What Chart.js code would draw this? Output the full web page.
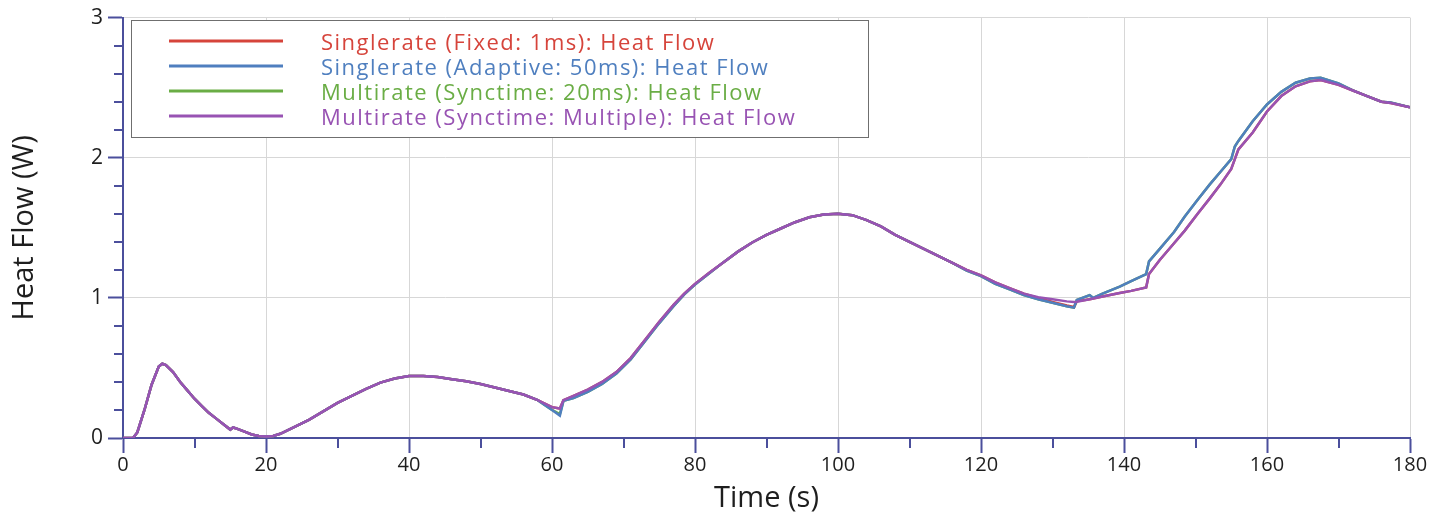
<!DOCTYPE html>
<html>
<head>
<meta charset="utf-8">
<script src="https://cdn.jsdelivr.net/npm/chart.js@4.4.0/dist/chart.umd.min.js"></script>
<style>
  html, body { margin:0; padding:0; background:#fff; }
  #wrap { width:1439px; height:519px; }
</style>
</head>
<body>
<div id="wrap"><canvas id="chartHeat" width="1439" height="519"></canvas></div>
<script>
// series names
const seriesNames = [
  'Singlerate (Fixed: 1ms): Heat Flow',
  'Singlerate (Adaptive: 50ms): Heat Flow',
  'Multirate (Synctime: 20ms): Heat Flow',
  'Multirate (Synctime: Multiple): Heat Flow'
];
const seriesColors = ['#d6443b', '#4f7fbf', '#6aad45', '#9853b3'];

// first part, all four runs lie on top of each other
const startTime = [0,1.4,2,3,4,5,5.5,6,7,8,9,10,11,12,13,14,15,15.4,16,17,18,19,20,21,22,24,26,28,30,32,34,36,38,40,42,44,46,48,50,52,54,56,58];
const startHeat = [0,0,0.04,0.2,0.38,0.51,0.53,0.52,0.47,0.40,0.34,0.28,0.23,0.18,0.14,0.10,0.06,0.075,0.065,0.045,0.025,0.015,0.01,0.015,0.03,0.08,0.13,0.19,0.25,0.30,0.35,0.395,0.425,0.443,0.442,0.435,0.42,0.405,0.385,0.36,0.335,0.31,0.27];

// second part, runs drift apart a little
const tailTime = [60,61.1,61.6,63,65,67,69,71,73,75,77,78.5,80,82,84,86,88,90,92,94,96,98,100,102,104,106,108,110,112,114,116,118,120,122,124,126,128,130,132,133,133.4,135.2,135.7,137,139.4,141,143.1,143.5,145,147,148.5,150.3,152,153.5,155,155.5,156,158,160,162,164,166,167.5,170,172,174,176,177.3,180];

const fixedHeat = [0.22,0.21,0.27,0.30,0.345,0.40,0.47,0.57,0.70,0.83,
  0.95,1.03,1.10,1.18,1.255,1.33,1.395,1.45,1.495,1.54,
  1.575,1.595,1.60,1.59,1.555,1.51,1.45,1.40,1.35,1.30,
  1.25,1.20,1.16,1.11,1.07,1.03,1.00,0.97,0.945,0.935,
  0.975,0.99,0.995,1.01,1.035,1.05,1.075,1.17,1.27,1.39,
  1.48,1.60,1.71,1.81,1.92,1.99,2.06,2.18,2.33,2.44,
  2.51,2.545,2.555,2.52,2.48,2.44,2.40,2.39,2.36];

const adaptiveHeat = [0.20,0.16,0.265,0.285,0.33,0.385,0.46,0.56,0.69,0.82,
  0.94,1.025,1.095,1.175,1.255,1.33,1.395,1.45,1.495,1.54,
  1.575,1.595,1.60,1.59,1.555,1.51,1.45,1.40,1.35,1.30,
  1.25,1.195,1.155,1.10,1.06,1.02,0.99,0.965,0.94,0.93,
  0.985,1.02,1.00,1.03,1.08,1.12,1.17,1.26,1.35,1.47,
  1.58,1.70,1.81,1.90,1.99,2.08,2.12,2.26,2.38,2.47,
  2.535,2.565,2.57,2.53,2.48,2.44,2.40,2.395,2.36];

const sync20Heat = [0.20,0.17,0.265,0.285,0.33,0.385,0.46,0.56,0.69,0.82,
  0.94,1.025,1.095,1.175,1.255,1.33,1.395,1.45,1.495,1.54,
  1.575,1.595,1.60,1.59,1.555,1.51,1.45,1.40,1.35,1.30,
  1.25,1.195,1.155,1.10,1.06,1.02,0.99,0.965,0.94,0.93,
  0.985,1.02,1.00,1.03,1.08,1.12,1.17,1.26,1.35,1.47,
  1.58,1.70,1.81,1.90,1.99,2.08,2.12,2.26,2.38,2.47,
  2.535,2.565,2.57,2.53,2.48,2.44,2.40,2.395,2.36];

const multipleHeat = [0.22,0.21,0.27,0.30,0.345,0.40,0.47,0.57,0.70,0.83,
  0.95,1.03,1.10,1.18,1.255,1.33,1.395,1.45,1.495,1.54,
  1.575,1.595,1.60,1.59,1.555,1.51,1.45,1.40,1.35,1.30,
  1.25,1.20,1.16,1.11,1.07,1.03,1.005,0.99,0.975,0.97,
  0.972,0.99,0.995,1.01,1.035,1.05,1.075,1.17,1.27,1.39,
  1.48,1.60,1.71,1.81,1.92,1.99,2.06,2.18,2.33,2.44,
  2.51,2.545,2.555,2.52,2.48,2.44,2.40,2.39,2.36];

const axisColor = '#4b4f9c';
const gridColor = '#d7d7d7';
const textColor = '#1e1e1e';
const fontFamily = '"Open Sans", "Noto Sans", sans-serif';

function points(tail) {
  const heat = startHeat.concat(tail);
  return startTime.concat(tailTime).map((t, i) => ({ x: t, y: heat[i] }));
}

const isMajorX = v => Math.abs(v % 20) < 1e-6;
const isMajorY = v => Math.abs(v - Math.round(v)) < 1e-6;

// short minor ticks, the long major ones come from Chart.js itself
const minorTicks = {
  id: 'minorTicks',
  afterDraw(chart) {
    const ctx = chart.ctx, a = chart.chartArea;
    const xs = chart.scales.x, ys = chart.scales.y;
    ctx.save();
    ctx.strokeStyle = axisColor; ctx.lineWidth = 2;
    xs.ticks.forEach(t => {
      if (isMajorX(t.value)) return;
      const px = Math.round(xs.getPixelForValue(t.value));
      ctx.beginPath(); ctx.moveTo(px, a.bottom); ctx.lineTo(px, a.bottom + 10); ctx.stroke();
    });
    ys.ticks.forEach(t => {
      if (isMajorY(t.value)) return;
      const py = Math.round(ys.getPixelForValue(t.value));
      ctx.beginPath(); ctx.moveTo(a.left, py); ctx.lineTo(a.left - 9, py); ctx.stroke();
    });
    ctx.restore();
  }
};

// boxed legend inside the plot, top left
const legendBox = {
  id: 'legendBox',
  afterDatasetsDraw(chart) {
    const ctx = chart.ctx, a = chart.chartArea;
    const x0 = a.left + 8, y0 = 20, w = 737, h = 117;
    ctx.save();
    ctx.fillStyle = '#fff';
    ctx.fillRect(x0, y0, w, h);
    ctx.strokeStyle = '#6f6f6f'; ctx.lineWidth = 1;
    ctx.strokeRect(x0 + 0.5, y0 + 0.5, w, h);
    ctx.font = '22px ' + fontFamily;
    ctx.letterSpacing = '1.5px';
    ctx.textBaseline = 'middle';
    seriesNames.forEach((name, i) => {
      const y = y0 + 21 + i * 25;
      ctx.strokeStyle = seriesColors[i]; ctx.lineWidth = 3;
      ctx.beginPath(); ctx.moveTo(x0 + 38, y); ctx.lineTo(x0 + 152, y); ctx.stroke();
      ctx.fillStyle = seriesColors[i];
      ctx.fillText(name, x0 + 190, y + 3);
    });
    ctx.restore();
  }
};

const tails = [fixedHeat, adaptiveHeat, sync20Heat, multipleHeat];
const drawOrder = [2, 1, 3, 0]; // purple on top, green at the bottom

new Chart(document.getElementById('chartHeat'), {
  type: 'line',
  data: {
    datasets: seriesNames.map((name, i) => ({
      label: name,
      data: points(tails[i]),
      borderColor: seriesColors[i],
      backgroundColor: seriesColors[i],
      borderWidth: 2.5,
      pointRadius: 0,
      tension: 0,
      fill: false,
      order: drawOrder[i]
    }))
  },
  options: {
    responsive: false,
    animation: false,
    devicePixelRatio: 1,
    layout: { padding: { top: 11, right: 29, left: 0, bottom: 0 } },
    plugins: { legend: { display: false }, tooltip: { enabled: false } },
    scales: {
      x: {
        type: 'linear', min: 0, max: 180,
        afterFit: s => { s.height = 81; },
        ticks: {
          stepSize: 10, autoSkip: false, maxRotation: 0, padding: 0,
          color: textColor, font: { family: fontFamily, size: 20 },
          callback: v => isMajorX(v) ? v : ''
        },
        grid: {
          color: c => isMajorX(c.tick.value) ? gridColor : 'rgba(0,0,0,0)',
          tickColor: c => isMajorX(c.tick.value) ? axisColor : 'rgba(0,0,0,0)',
          tickLength: 15, tickWidth: 2, lineWidth: 1
        },
        border: { color: axisColor, width: 2 },
        title: {
          display: true, text: 'Time (s)', color: textColor,
          font: { family: fontFamily, size: 29 }, padding: { top: 3, bottom: 3 }
        }
      },
      y: {
        min: 0, max: 3,
        afterFit: s => { s.width = 123; },
        ticks: {
          stepSize: 0.2, autoSkip: false, padding: 5,
          color: textColor, font: { family: fontFamily, size: 21 },
          callback: v => isMajorY(v) ? Math.round(v) : ''
        },
        grid: {
          color: c => isMajorY(c.tick.value) ? gridColor : 'rgba(0,0,0,0)',
          tickColor: c => isMajorY(c.tick.value) ? axisColor : 'rgba(0,0,0,0)',
          tickLength: 15, tickWidth: 2, lineWidth: 1
        },
        border: { color: axisColor, width: 2 },
        title: {
          display: true, text: 'Heat Flow (W)', color: textColor,
          font: { family: fontFamily, size: 29 }, padding: { top: 7, bottom: 0 }
        }
      }
    }
  },
  plugins: [minorTicks, legendBox]
});
</script>
</body>
</html>
